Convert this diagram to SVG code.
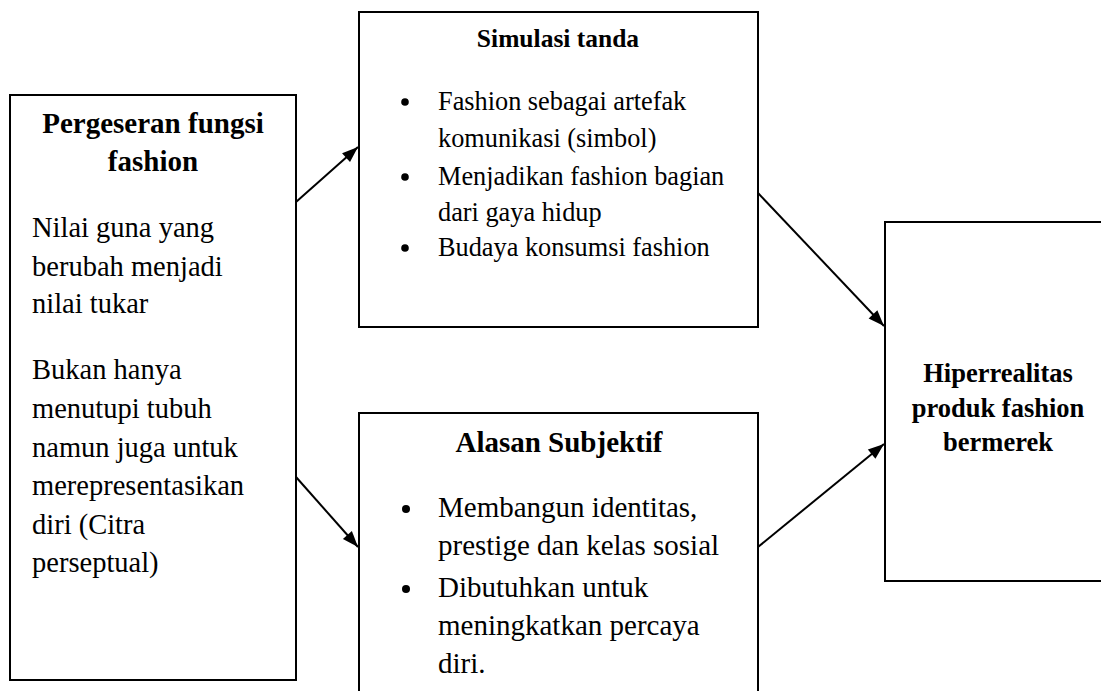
<svg xmlns="http://www.w3.org/2000/svg" width="1101" height="691" viewBox="0 0 1101 691">
<style>
.box{fill:#fff;stroke:#000;stroke-width:2}
.t{font-family:"Liberation Serif","Times New Roman",serif;fill:#000}
.b{font-weight:bold}
.c{text-anchor:middle}
.con{stroke:#000;stroke-width:2;fill:none;marker-end:url(#ah)}
</style>
<defs>
<marker id="ah" viewBox="0 0 16 12" refX="16" refY="6" markerWidth="16" markerHeight="12" markerUnits="userSpaceOnUse" orient="auto" overflow="visible">
<path d="M0,0 L16,6 L0,12 Z" fill="#000"/>
</marker>
</defs>
<rect width="1101" height="691" fill="#fff"/>
<g id="node-pergeseran">
<rect class="box" x="10" y="95" width="286" height="585"/>
<text class="t b c" x="153" y="133" font-size="29">Pergeseran fungsi</text>
<text class="t b c" x="153" y="171" font-size="29">fashion</text>
<text class="t" x="32" y="237" font-size="28.5">Nilai guna yang</text>
<text class="t" x="32" y="276" font-size="28.5">berubah menjadi</text>
<text class="t" x="32" y="313" font-size="28.5">nilai tukar</text>
<text class="t" x="32" y="379" font-size="28.5">Bukan hanya</text>
<text class="t" x="32" y="418" font-size="28.5">menutupi tubuh</text>
<text class="t" x="32" y="457" font-size="28.5">namun juga untuk</text>
<text class="t" x="32" y="495" font-size="28.5">merepresentasikan</text>
<text class="t" x="32" y="534" font-size="28.5">diri (Citra</text>
<text class="t" x="32" y="572" font-size="28.5">perseptual)</text>
</g>
<g id="node-simulasi">
<rect class="box" x="359" y="12" width="399" height="315"/>
<text class="t b c" x="558" y="47" font-size="25.5">Simulasi tanda</text>
<circle cx="405" cy="102" r="3.8"/>
<text class="t" x="438" y="110" font-size="26.3">Fashion sebagai artefak</text>
<text class="t" x="438" y="147" font-size="26.3">komunikasi (simbol)</text>
<circle cx="405" cy="177" r="3.8"/>
<text class="t" x="438" y="185" font-size="26.3">Menjadikan fashion bagian</text>
<text class="t" x="438" y="221" font-size="26.3">dari gaya hidup</text>
<circle cx="405" cy="248" r="3.8"/>
<text class="t" x="438" y="256" font-size="26.3">Budaya konsumsi fashion</text>
</g>
<g id="node-alasan">
<rect class="box" x="359" y="413" width="399" height="300"/>
<text class="t b c" x="559" y="452" font-size="29">Alasan Subjektif</text>
<circle cx="406" cy="509" r="4"/>
<text class="t" x="438" y="517" font-size="29">Membangun identitas,</text>
<text class="t" x="438" y="555" font-size="29">prestige dan kelas sosial</text>
<circle cx="406" cy="589" r="4"/>
<text class="t" x="438" y="597" font-size="29">Dibutuhkan untuk</text>
<text class="t" x="438" y="635" font-size="29">meningkatkan percaya</text>
<text class="t" x="438" y="673" font-size="29">diri.</text>
</g>
<g id="node-hiperrealitas">
<rect class="box" x="885" y="222" width="230" height="359"/>
<text class="t b c" x="998" y="382" font-size="26.5">Hiperrealitas</text>
<text class="t b c" x="998" y="417" font-size="26.5">produk fashion</text>
<text class="t b c" x="998" y="451" font-size="26.5">bermerek</text>
</g>
<g id="connectors">
<line class="con" x1="296" y1="202" x2="358" y2="147"/>
<line class="con" x1="296" y1="477" x2="358" y2="547"/>
<line class="con" x1="758" y1="193" x2="884" y2="326"/>
<line class="con" x1="758" y1="547" x2="884" y2="444"/>
</g>
</svg>
